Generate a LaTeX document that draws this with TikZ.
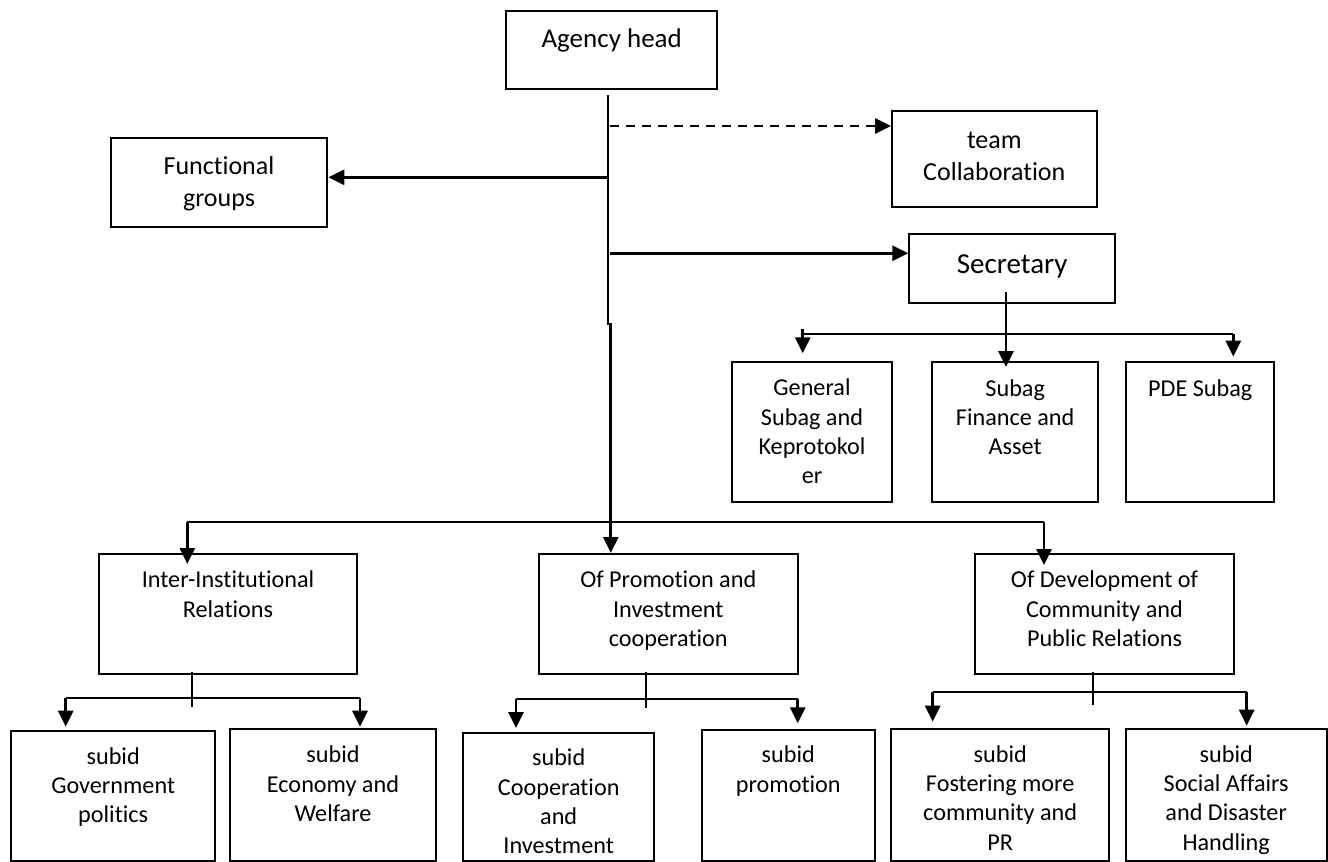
\documentclass[tikz,border=0pt]{standalone}
\usepackage{fontspec}
\setmainfont{Carlito}[RawFeature={-liga}]
\usetikzlibrary{arrows.meta,fit}
\begin{document}
\begin{tikzpicture}[x=1pt,y=-1pt,
  orgbox/.style={draw=black, line width=2pt, inner sep=0pt, fill=none},
  txt/.style={inner sep=0pt, anchor=base, font=\fontsize{24.2}{29.3}\selectfont},
  midtxt/.style={txt, font=\fontsize{26}{31.7}\selectfont},
  bigtxt/.style={txt, font=\fontsize{27}{33}\selectfont},
  sectxt/.style={txt, font=\fontsize{29}{35}\selectfont},
  mainline/.style={line width=2.8pt},
  thinline/.style={line width=2pt},
  tip/.style={-{Triangle[length=16pt,width=15pt]}},
  dashline/.style={line width=2.6pt, dash pattern=on 9pt off 7pt, -{Triangle[length=16pt,width=15pt]}}
]
\useasboundingbox (0,0) rectangle (1328,862);
\fill[white] (0,0) rectangle (1328,862);

% ---------- boxes ----------
\node[orgbox, fit={(505.7,10.7) (716.7,89)}] (agency) {};
\node[orgbox, fit={(110.7,137.7) (327.3,226.7)}] (functional) {};
\node[orgbox, fit={(892,110.7) (1096.7,206.7)}] (team) {};
\node[orgbox, fit={(909.3,234) (1115,303.3)}] (secretary) {};
\node[orgbox, fit={(731.7,361.7) (892.3,501.7)}] (general) {};
\node[orgbox, fit={(932.3,361.7) (1098,501.7)}] (finance) {};
\node[orgbox, fit={(1126,361.7) (1274.3,501.7)}] (pde) {};
\node[orgbox, fit={(99,554.3) (357,673.7)}] (inter) {};
\node[orgbox, fit={(539,554.3) (797.7,673.7)}] (promo) {};
\node[orgbox, fit={(975.3,554.3) (1233.7,673.7)}] (devel) {};
\node[orgbox, fit={(11,730.7) (215.3,860.5)}] (gov) {};
\node[orgbox, fit={(229.7,728.7) (436.3,860.5)}] (econ) {};
\node[orgbox, fit={(463,732.7) (654.3,860.5)}] (coop) {};
\node[orgbox, fit={(701.7,730) (875,860.5)}] (prom2) {};
\node[orgbox, fit={(891,728.7) (1109.3,860.5)}] (foster) {};
\node[orgbox, fit={(1125.7,728.7) (1326.5,860.5)}] (social) {};

% ---------- texts ----------
\node[bigtxt] (agency-t) at (611.7,47.7) {\parbox[t]{300pt}{\centering Agency head}};
\node[midtxt] (functional-t) at (219,174.3) {\parbox[t]{300pt}{\centering Functional\\groups}};
\node[midtxt] (team-t) at (994.3,148.3) {\parbox[t]{300pt}{\centering team\\Collaboration}};
\node[sectxt] (secretary-t) at (1012.2,273.3) {\parbox[t]{300pt}{\centering Secretary}};
\node[txt] (general-t) at (812,395.7) {\parbox[t]{300pt}{\centering General\\Subag and\\Keprotokol\\er}};
\node[txt] (finance-t) at (1015.2,396) {\parbox[t]{300pt}{\centering Subag\\Finance and\\Asset}};
\node[txt] (pde-t) at (1200.2,396.7) {\parbox[t]{300pt}{\centering PDE Subag}};
\node[txt] (inter-t) at (228,587.7) {\parbox[t]{300pt}{\centering Inter-Institutional\\Relations}};
\node[txt] (promo-t) at (668.3,587.7) {\parbox[t]{300pt}{\centering Of Promotion and\\Investment\\cooperation}};
\node[txt] (devel-t) at (1104.5,587.7) {\parbox[t]{300pt}{\centering Of Development of\\Community and\\Public Relations}};
\node[txt] (gov-t) at (113.2,764) {\parbox[t]{300pt}{\centering subid\\Government\\politics}};
\node[txt] (econ-t) at (333,762.7) {\parbox[t]{300pt}{\centering subid\\Economy and\\Welfare}};
\node[txt] (coop-t) at (558.7,765.7) {\parbox[t]{300pt}{\centering subid\\Cooperation\\and\\Investment}};
\node[txt] (prom2-t) at (788.3,762.7) {\parbox[t]{300pt}{\centering subid\\promotion}};
\node[txt] (foster-t) at (1000.2,762.3) {\parbox[t]{300pt}{\centering subid\\Fostering more\\community and\\PR}};
\node[txt] (social-t) at (1226.2,762.3) {\parbox[t]{300pt}{\centering subid\\Social Affairs\\and Disaster\\Handling}};

% ---------- coordinates ----------
\coordinate (m0) at (608,95);
\coordinate (m1) at (608,325);
\coordinate (m2) at (610.8,323);
\coordinate (m3) at (610.8,553);
\coordinate (d0) at (609.5,126);
\coordinate (f0) at (608,177.3);
\coordinate (s0) at (610,253.3);
\coordinate (s1) at (1006,291.7);
\coordinate (s2) at (1006,367);
\coordinate (b0) at (802.7,329);
\coordinate (b1) at (802.7,334);
\coordinate (b2) at (802.7,353.3);
\coordinate (b3) at (1233.3,334);
\coordinate (b4) at (1233.3,356.7);
\coordinate (g0) at (187.3,522);
\coordinate (g1) at (187.3,564);
\coordinate (g2) at (1044,522);
\coordinate (g3) at (1044,565);
% inter sub
\coordinate (i0) at (191.7,672);
\coordinate (i1) at (191.7,706.7);
\coordinate (i2) at (65.7,698.3);
\coordinate (i3) at (65.7,726.7);
\coordinate (i4) at (360,698.3);
\coordinate (i5) at (360,726.7);
% promo sub
\coordinate (p0) at (646,672);
\coordinate (p1) at (646,708);
\coordinate (p2) at (516,698.7);
\coordinate (p3) at (516,728);
\coordinate (p4) at (797.7,698.7);
\coordinate (p5) at (797.7,723.3);
% devel sub
\coordinate (v0) at (1093.3,672);
\coordinate (v1) at (1093.3,705);
\coordinate (v2) at (932.7,692.3);
\coordinate (v3) at (932.7,721.7);
\coordinate (v4) at (1246.7,692.3);
\coordinate (v5) at (1246.7,725.7);

% ---------- connectors ----------
\draw[mainline] (m0) -- (m1);
\draw[mainline,tip] (m2) -- (m3);
\draw[dashline] (d0) -- (d0 -| team.west);
\draw[mainline,tip] (f0) -- (f0 -| functional.east);
\draw[mainline,tip] (s0) -- (s0 -| secretary.west);
\draw[mainline,tip] (s1) -- (s2);
\draw[mainline,tip] (b0) -- (b2);
\draw[thinline] (b1) -- (b3);
\draw[mainline,tip] (b3) -- (b4);
\draw[thinline] (g0) -- (g2);
\draw[mainline,tip] (g0) -- (g1);
\draw[mainline,tip] (g2) -- (g3);

\draw[thinline] (i0) -- (i1);
\draw[thinline] (i2) -- (i4);
\draw[mainline,tip] (i2) -- (i3);
\draw[mainline,tip] (i4) -- (i5);

\draw[thinline] (p0) -- (p1);
\draw[thinline] (p2) -- (p4);
\draw[mainline,tip] (p2) -- (p3);
\draw[mainline,tip] (p4) -- (p5);

\draw[thinline] (v0) -- (v1);
\draw[thinline] (v2) -- (v4);
\draw[mainline,tip] (v2) -- (v3);
\draw[mainline,tip] (v4) -- (v5);
\end{tikzpicture}
\end{document}
